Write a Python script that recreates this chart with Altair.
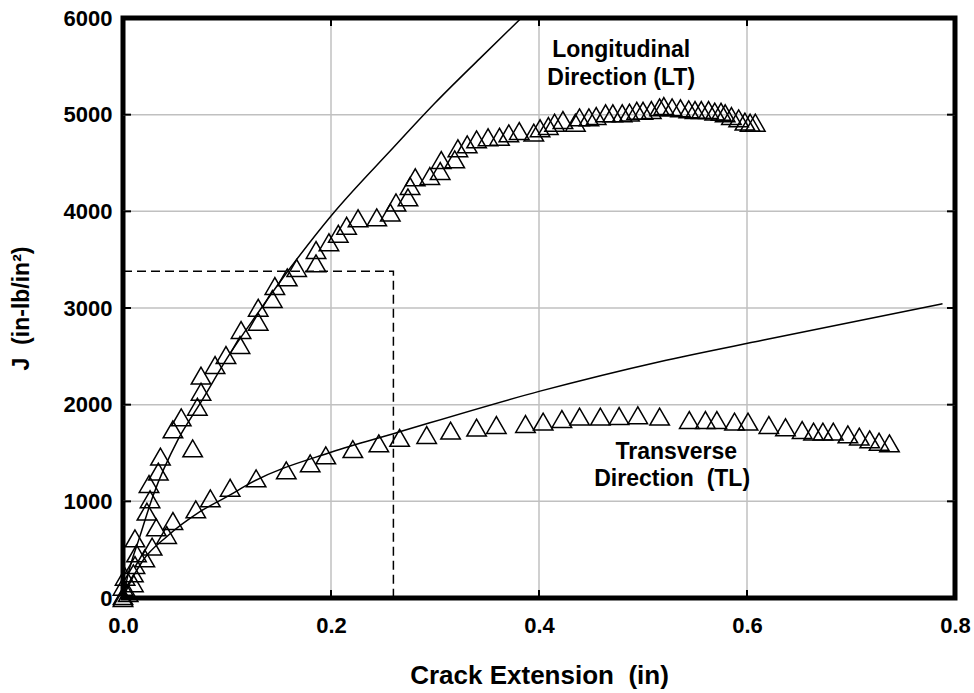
import altair as alt
import pandas as pd

# ---------------- data ----------------
lt_x = [0.000, 0.000, 0.002, 0.0115, 0.013, 0.0115, 0.023, 0.026, 0.025, 0.034, 0.036,
        0.048, 0.056, 0.067, 0.0715, 0.075, 0.075, 0.0885, 0.099, 0.1125, 0.1135,
        0.130, 0.130, 0.1436, 0.146, 0.158, 0.167, 0.1856, 0.1856, 0.198, 0.207,
        0.215, 0.226, 0.244, 0.257, 0.2625, 0.274, 0.276, 0.281, 0.295, 0.305,
        0.306, 0.319, 0.322, 0.331, 0.340, 0.351, 0.362, 0.371, 0.381, 0.395,
        0.401, 0.409, 0.415, 0.423, 0.435, 0.439, 0.448, 0.455, 0.464, 0.471,
        0.480, 0.487, 0.494, 0.500, 0.508, 0.516, 0.520, 0.528, 0.536, 0.544,
        0.550, 0.556, 0.563, 0.569, 0.575, 0.579, 0.585, 0.592, 0.598, 0.603, 0.608]
lt_j = [0, 117, 220, 341, 462, 617, 893, 1021, 1179, 1307, 1462,
        1745, 1869, 1548, 1979, 2134, 2300, 2410, 2514, 2617, 2772,
        2858, 3003, 3093, 3228, 3317, 3414, 3462, 3600, 3680, 3768,
        3851, 3928, 3938, 3988, 4092, 4145, 4262, 4352, 4365, 4417,
        4531, 4538, 4652, 4693, 4745, 4766, 4772, 4807, 4831, 4814,
        4859, 4883, 4917, 4945, 4917, 4972, 4972, 4986, 5014, 5014,
        5014, 5021, 5041, 5041, 5048, 5076, 5090, 5076, 5066, 5055,
        5048, 5048, 5048, 5031, 5030, 5014, 4986, 4962, 4928, 4917, 4917]

tl_x = [0.000, 0.005, 0.010, 0.010, 0.021, 0.028, 0.032, 0.042, 0.048, 0.070, 0.084,
        0.103, 0.128, 0.157, 0.180, 0.195, 0.221, 0.246, 0.266, 0.292, 0.315,
        0.340, 0.359, 0.387, 0.404, 0.422, 0.439, 0.459, 0.477, 0.495, 0.516,
        0.5445, 0.560, 0.571, 0.588, 0.601, 0.621, 0.637, 0.653, 0.664, 0.673,
        0.683, 0.697, 0.708, 0.718, 0.727, 0.737]
tl_j = [20, 50, 152, 255, 410, 531, 731, 652, 797, 917, 1031,
        1141, 1238, 1320, 1393, 1476, 1540, 1600, 1657, 1686, 1731,
        1762, 1790, 1800, 1824, 1852, 1876, 1876, 1883, 1890, 1876,
        1841, 1841, 1841, 1824, 1824, 1790, 1766, 1738, 1721, 1721,
        1721, 1693, 1669, 1641, 1617, 1600]

lt_fit_x = [0.0, 0.005, 0.0163, 0.029, 0.053, 0.074, 0.103, 0.1285, 0.157,
            0.2006, 0.26, 0.30, 0.343, 0.383]
lt_fit_j = [0, 250, 640, 1060, 1640, 2010, 2530, 2930, 3359,
            3960, 4660, 5120, 5580, 6000]

tl_fit_x = [0.0, 0.002, 0.0195, 0.042, 0.074, 0.103, 0.122, 0.2006, 0.26,
            0.401, 0.516, 0.616, 0.788]
tl_fit_j = [0, 50, 393, 634, 893, 1066, 1186, 1510, 1700,
            2140, 2445, 2669, 3044]

jic_x = [0.0, 0.26, 0.26]
jic_j = [3380, 3380, 0]

x_ticks = [0.0, 0.2, 0.4, 0.6, 0.8]
y_ticks = [0, 1000, 2000, 3000, 4000, 5000, 6000]
x_grid = [0.2, 0.4, 0.6]
y_grid = [1000, 2000, 3000, 4000, 5000]

NB = "\u00a0"
label_text = ["Longitudinal", "Direction (LT)", "Transverse", "Direction" + NB + NB + "(TL)"]
label_x = [0.479, 0.479, 0.532, 0.528]
label_j = [5669, 5379, 1510, 1231]

x_title = "Crack Extension" + NB + NB + "(in)"
y_title = "J" + NB + NB + "(in-lb/in²)"

# ---------------- chart ----------------
FONT = "Liberation Sans"
W, H = 832, 580
GRID = "#c0c0c0"

pts = pd.DataFrame({
    "x": lt_x + tl_x,
    "j": lt_j + tl_j,
    "series": ["LT"] * len(lt_x) + ["TL"] * len(tl_x),
})
fits = pd.DataFrame({
    "x": lt_fit_x + tl_fit_x,
    "j": lt_fit_j + tl_fit_j,
    "series": ["LT"] * len(lt_fit_x) + ["TL"] * len(tl_fit_x),
})
jic = pd.DataFrame({"x": jic_x, "j": jic_j, "o": list(range(len(jic_x)))})
xt = pd.DataFrame({"x": x_ticks})
yt = pd.DataFrame({"j": y_ticks})
xg = pd.DataFrame({"x": x_grid})
yg = pd.DataFrame({"j": y_grid})
labels = pd.DataFrame({"x": label_x, "j": label_j, "t": label_text})

xs = alt.Scale(domain=[0, 0.8], nice=False, zero=False)
ys = alt.Scale(domain=[0, 6000], nice=False)

x_axis = alt.Axis(values=x_ticks, format=".1f", title=x_title,
                  grid=False, domain=False, ticks=False, tickSize=0, labelFlush=False,
                  labelFont=FONT, labelFontSize=22, labelFontWeight="bold",
                  labelColor="black", labelPadding=17,
                  titleFont=FONT, titleFontSize=26, titleFontWeight="bold",
                  titleColor="black", titlePadding=26)
y_axis = alt.Axis(values=y_ticks, format="d", title=y_title,
                  grid=False, domain=False, ticks=False, tickSize=0, labelFlush=False,
                  labelFont=FONT, labelFontSize=22, labelFontWeight="bold",
                  labelColor="black", labelPadding=11,
                  titleFont=FONT, titleFontSize=23, titleFontWeight="bold",
                  titleColor="black", titlePadding=30)

X = lambda: alt.X("x:Q", scale=xs, axis=x_axis)
Y = lambda: alt.Y("j:Q", scale=ys, axis=y_axis)

x_grid_rules = alt.Chart(xg).mark_rule(color=GRID, strokeWidth=1.5).encode(x=X())
y_grid_rules = alt.Chart(yg).mark_rule(color=GRID, strokeWidth=1.5).encode(y=Y())

points = alt.Chart(pts).mark_point(
    shape="triangle-up", filled=False, size=380, stroke="black", strokeWidth=1.5, opacity=1
).encode(x=X(), y=Y())

fit_lines = alt.Chart(fits).mark_line(
    color="black", strokeWidth=1.5, interpolate="monotone", clip=True
).encode(x=X(), y=Y(), detail="series:N")

jic_line = alt.Chart(jic).mark_line(
    color="black", strokeWidth=1.5, strokeDash=[9, 5]
).encode(x=X(), y=Y(), order="o:Q")

tick_style = dict(color="black", thickness=2, size=16, clip=True, opacity=1)
top_ticks = alt.Chart(xt).mark_tick(orient="vertical", **tick_style).encode(
    x=X(), y=alt.value(0))
bottom_ticks = alt.Chart(xt).mark_tick(orient="vertical", **tick_style).encode(
    x=X(), y=alt.value(H))
left_ticks = alt.Chart(yt).mark_tick(orient="horizontal", **tick_style).encode(
    y=Y(), x=alt.value(0))
right_ticks = alt.Chart(yt).mark_tick(orient="horizontal", **tick_style).encode(
    y=Y(), x=alt.value(W))

texts = alt.Chart(labels).mark_text(
    font=FONT, fontSize=23, fontWeight="bold", align="center", baseline="middle", color="black"
).encode(x=X(), y=Y(), text="t:N")

chart = alt.layer(
    x_grid_rules, y_grid_rules,
    points, fit_lines, jic_line, top_ticks, bottom_ticks, left_ticks, right_ticks, texts
).properties(
    width=W, height=H,
    autosize=alt.AutoSizeParams(type="none"),
    padding={"left": 123, "top": 18, "right": 19, "bottom": 95},
    background="white",
).configure_view(
    stroke="black", strokeWidth=5
)

chart.save("out.html", embed_options={"renderer": "svg", "actions": False})
